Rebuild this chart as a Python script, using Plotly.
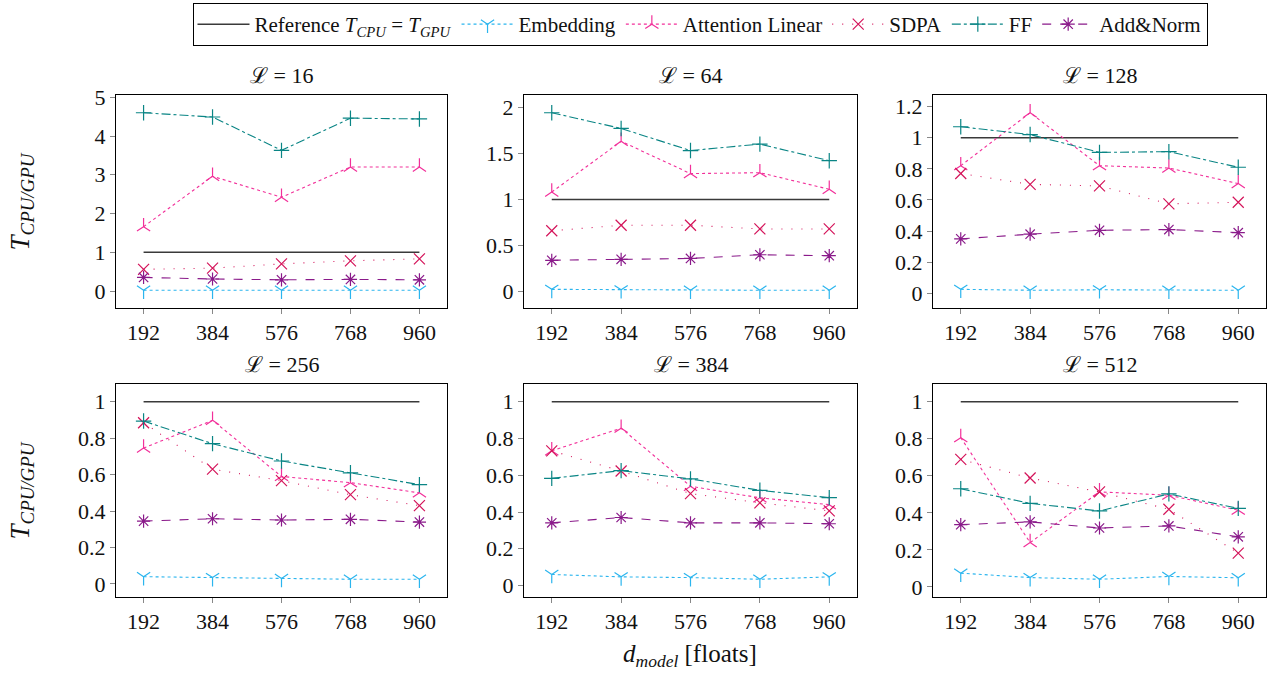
import plotly.graph_objects as go

# ---------------- data ----------------
d_model = [192, 384, 576, 768, 960]
x_ticktext = ["192", "384", "576", "768", "960"]
panel_titles = ["ℒ = 16", "ℒ = 64", "ℒ = 128", "ℒ = 256", "ℒ = 384", "ℒ = 512"]

reference = [1, 1, 1, 1, 1]

embedding = [
    [0.02, 0.02, 0.02, 0.02, 0.02],
    [0.025, 0.02, 0.015, 0.015, 0.015],
    [0.026, 0.02, 0.023, 0.02, 0.02],
    [0.04, 0.035, 0.03, 0.026, 0.026],
    [0.06, 0.047, 0.043, 0.034, 0.047],
    [0.074, 0.05, 0.041, 0.056, 0.049],
]
attention_linear = [
    [1.66, 2.96, 2.42, 3.20, 3.20],
    [1.08, 1.63, 1.28, 1.29, 1.11],
    [0.82, 1.16, 0.82, 0.805, 0.705],
    [0.746, 0.898, 0.59, 0.556, 0.50],
    [0.733, 0.856, 0.54, 0.477, 0.44],
    [0.806, 0.239, 0.513, 0.495, 0.414],
]
sdpa = [
    [0.56, 0.59, 0.70, 0.78, 0.83],
    [0.66, 0.72, 0.72, 0.68, 0.68],
    [0.77, 0.70, 0.69, 0.575, 0.585],
    [0.885, 0.63, 0.567, 0.49, 0.43],
    [0.733, 0.623, 0.50, 0.45, 0.406],
    [0.689, 0.588, 0.513, 0.419, 0.182],
]
ff = [
    [4.60, 4.49, 3.63, 4.46, 4.44],
    [1.94, 1.77, 1.53, 1.60, 1.42],
    [1.07, 1.02, 0.905, 0.91, 0.81],
    [0.894, 0.77, 0.675, 0.61, 0.545],
    [0.583, 0.625, 0.58, 0.518, 0.478],
    [0.53, 0.451, 0.41, 0.502, 0.424],
]
add_norm = [
    [0.35, 0.31, 0.29, 0.30, 0.29],
    [0.34, 0.35, 0.36, 0.40, 0.39],
    [0.35, 0.38, 0.405, 0.41, 0.39],
    [0.345, 0.358, 0.351, 0.355, 0.34],
    [0.341, 0.37, 0.341, 0.341, 0.336],
    [0.336, 0.351, 0.318, 0.329, 0.27],
]

y_tickvals = [
    [0, 1, 2, 3, 4, 5],
    [0, 0.5, 1, 1.5, 2],
    [0, 0.2, 0.4, 0.6, 0.8, 1.0, 1.2],
    [0, 0.2, 0.4, 0.6, 0.8, 1.0],
    [0, 0.2, 0.4, 0.6, 0.8, 1.0],
    [0, 0.2, 0.4, 0.6, 0.8, 1.0],
]
y_ticktext = [
    ["0", "1", "2", "3", "4", "5"],
    ["0", "0.5", "1", "1.5", "2"],
    ["0", "0.2", "0.4", "0.6", "0.8", "1", "1.2"],
    ["0", "0.2", "0.4", "0.6", "0.8", "1"],
    ["0", "0.2", "0.4", "0.6", "0.8", "1"],
    ["0", "0.2", "0.4", "0.6", "0.8", "1"],
]

# ---------------- styling ----------------
W, H = 1274, 673
FONT = "Liberation Serif, Times New Roman, serif"

series = [
    ("Reference <i>T</i><sub><i>CPU</i></sub> = <i>T</i><sub><i>GPU</i></sub>", None, "#3a3a3a", "solid", None),
    ("Embedding", embedding, "#2bb5ee", "dot", "y-down"),
    ("Attention Linear", attention_linear, "#f2309a", "dot", "y-up"),
    ("SDPA", sdpa, "#d4145a", "1px,9px", "x-thin"),
    ("FF", ff, "#0a8585", "dashdot", "cross-thin"),
    ("Add&Norm", add_norm, "#8a1a8a", "dash", "asterisk"),
]

# panel geometry in pixels (left, right, top, bottom)
cols_px = [(116, 447), (524, 857), (933, 1266)]
rows_px = [(95, 308), (384, 597)]

fig = go.Figure()

for p in range(6):
    r, c = divmod(p, 3)
    idx = p + 1
    xa = "x" if idx == 1 else f"x{idx}"
    ya = "y" if idx == 1 else f"y{idx}"
    for (name, data, color, dash, sym) in series:
        if data is None:
            fig.add_trace(go.Scatter(
                x=d_model, y=reference, mode="lines", name=name,
                line=dict(color=color, width=1.5, dash=dash),
                xaxis=xa, yaxis=ya, showlegend=(p == 0), legendgroup=name,
            ))
        else:
            fig.add_trace(go.Scatter(
                x=d_model, y=data[p], mode="lines+markers", name=name,
                line=dict(color=color, width=1.1, dash=dash),
                marker=dict(symbol=sym, size=11, color=color,
                            line=dict(color=color, width=1.2)),
                xaxis=xa, yaxis=ya, showlegend=(p == 0), legendgroup=name,
            ))

    # ranges (pgfplots-like 10% enlargement)
    allv = reference + embedding[p] + attention_linear[p] + sdpa[p] + ff[p] + add_norm[p]
    lo, hi = min(allv), max(allv)
    span = hi - lo
    yr = [lo - 0.1 * span, hi + 0.1 * span]
    xspan = d_model[-1] - d_model[0]
    xr = [d_model[0] - 0.1 * xspan, d_model[-1] + 0.1 * xspan]

    l, rr = cols_px[c]
    t, b = rows_px[r]
    axis_common = dict(
        showline=True, mirror=True, linecolor="black", linewidth=1,
        showgrid=False, zeroline=False, ticks="outside", ticklen=5,
        tickcolor="#888888", tickwidth=1, automargin=False,
        tickfont=dict(family=FONT, size=22, color="#111111"),
    )
    fig.layout[f"xaxis{'' if idx == 1 else idx}"] = dict(
        domain=[l / W, rr / W], anchor=ya, range=xr,
        tickvals=d_model, ticktext=x_ticktext, **axis_common,
    )
    fig.layout[f"yaxis{'' if idx == 1 else idx}"] = dict(
        domain=[1 - b / H, 1 - t / H], anchor=xa, range=yr,
        tickvals=y_tickvals[p], ticktext=y_ticktext[p], **axis_common,
    )
    fig.add_annotation(
        text=panel_titles[p], xref="paper", yref="paper",
        x=(l + rr) / 2 / W, y=1 - (t - 5) / H, xanchor="center", yanchor="bottom",
        showarrow=False, font=dict(family=FONT, size=22, color="#111111"),
    )

# y-axis titles
for (t, b) in rows_px:
    fig.add_annotation(
        text="<i>T</i><sub><i>CPU/GPU</i></sub>", xref="paper", yref="paper",
        x=21 / W, y=1 - ((t + b) / 2) / H, xanchor="center", yanchor="middle",
        textangle=-90, showarrow=False, font=dict(family=FONT, size=27, color="#111111"),
    )

# x-axis title
fig.add_annotation(
    text="<i>d</i><sub><i>model</i></sub> [floats]", xref="paper", yref="paper",
    x=690 / W, y=1 - 655 / H, xanchor="center", yanchor="middle",
    showarrow=False, font=dict(family=FONT, size=25, color="#111111"),
)

fig.update_layout(
    width=W, height=H,
    margin=dict(l=0, r=0, t=0, b=0, autoexpand=False),
    paper_bgcolor="white", plot_bgcolor="white",
    font=dict(family=FONT, size=20, color="#111111"),
    legend=dict(
        orientation="h", x=700 / W, xanchor="center", y=1 - 3 / H, yanchor="top",
        bordercolor="black", borderwidth=1, bgcolor="white",
        font=dict(family=FONT, size=21, color="#111111"),
        itemwidth=52, tracegroupgap=0,
    ),
)

fig.write_html("out.html", config={"displayModeBar": False},
               post_script="document.body.style.margin='0';")
